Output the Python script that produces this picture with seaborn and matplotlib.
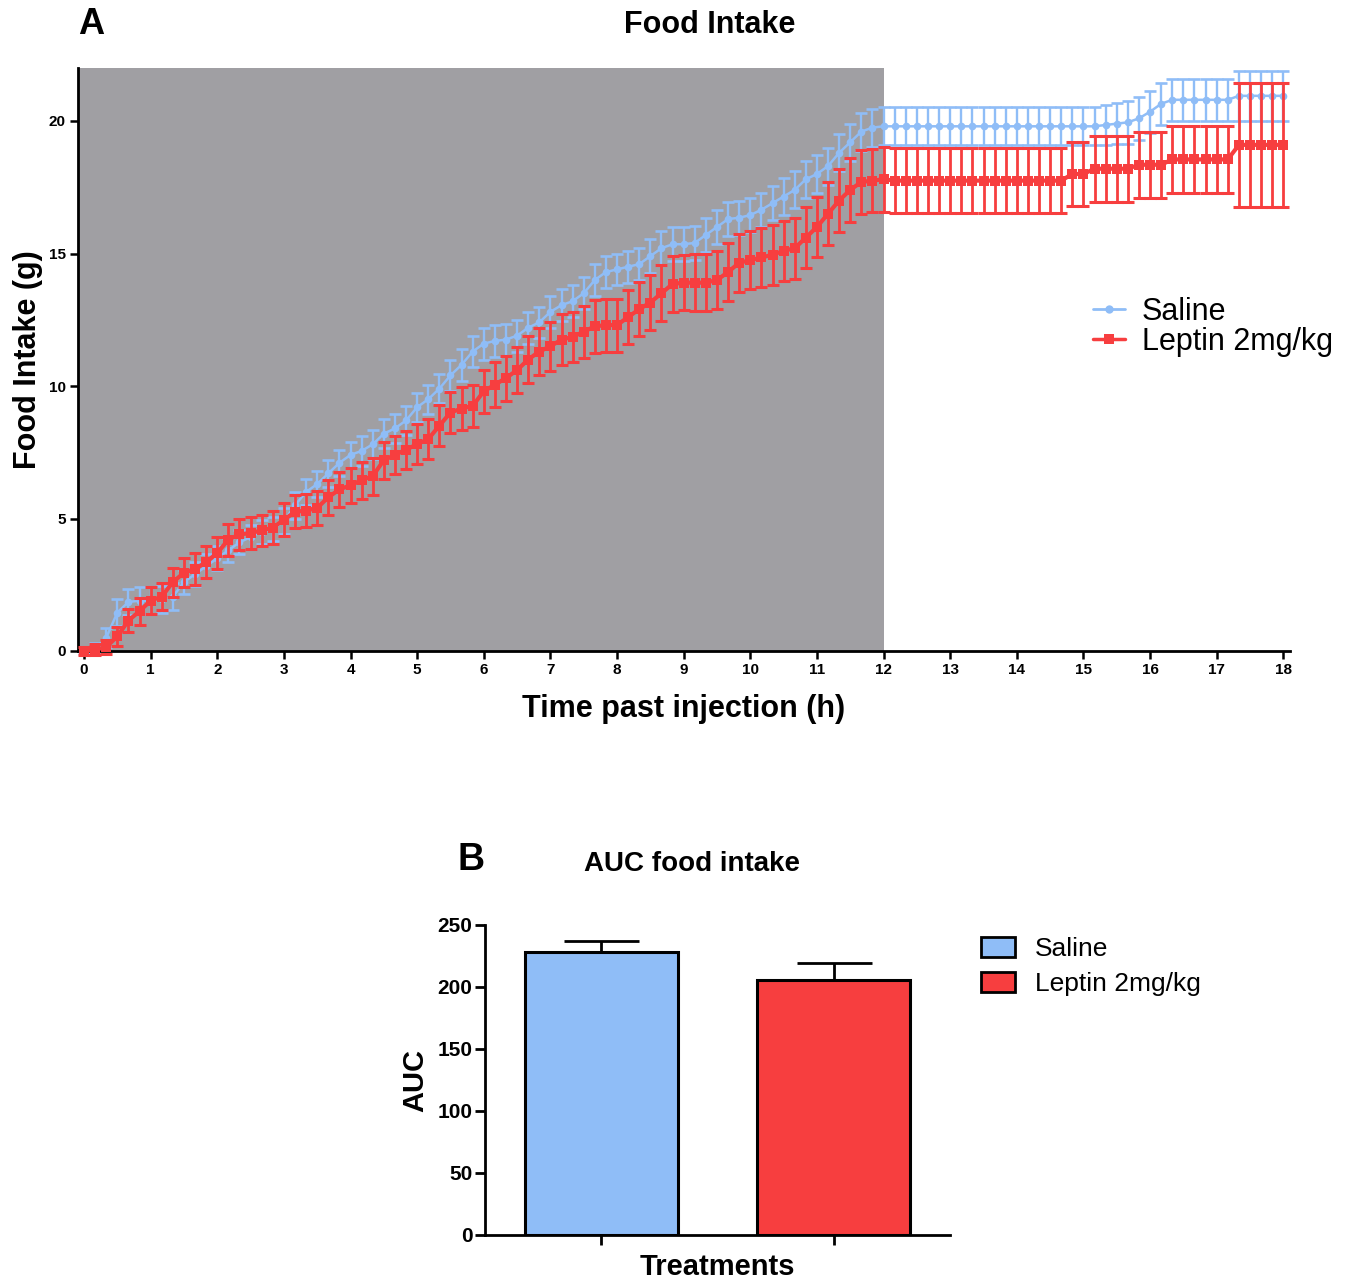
import numpy as np
import pandas as pd
import matplotlib
matplotlib.use("Agg")
import matplotlib.pyplot as plt
from matplotlib.lines import Line2D
from matplotlib.patches import Patch
import seaborn as sns

# ---------------- data ----------------
# time points (h), 10-minute sampling from 0 to 18 h
time_h = np.arange(109) / 6.0

saline_mean = [
    0.0, 0.1, 0.5, 1.45, 1.85, 1.9,
    1.9, 1.95, 2.05, 2.6, 2.9, 3.2,
    3.5, 3.8, 4.1, 4.3, 4.5, 4.6,
    4.9, 5.5, 6.0, 6.3, 6.7, 7.1,
    7.4, 7.55, 7.8, 8.2, 8.4, 8.7,
    9.2, 9.5, 9.9, 10.4, 10.8, 11.3,
    11.6, 11.7, 11.75, 11.9, 12.2, 12.4,
    12.8, 13.05, 13.2, 13.5, 14.0, 14.3,
    14.4, 14.5, 14.6, 14.9, 15.2, 15.35,
    15.35, 15.4, 15.7, 16.0, 16.3, 16.35,
    16.45, 16.65, 16.9, 17.15, 17.4, 17.8,
    18.0, 18.3, 18.8, 19.2, 19.6, 19.75,
    19.8, 19.8, 19.8, 19.8, 19.8, 19.8,
    19.8, 19.8, 19.8, 19.8, 19.8, 19.8,
    19.8, 19.8, 19.8, 19.8, 19.8, 19.8,
    19.8, 19.8, 19.85, 19.9, 19.95, 20.1,
    20.35, 20.65, 20.8, 20.8, 20.8, 20.8,
    20.8, 20.8, 20.95, 20.95, 20.95, 20.95,
    20.95,
]
saline_sem = [
    0.1, 0.2, 0.35, 0.5, 0.5, 0.5,
    0.5, 0.5, 0.5, 0.45, 0.45, 0.45,
    0.45, 0.45, 0.45, 0.45, 0.45, 0.45,
    0.5, 0.5, 0.5, 0.5, 0.5, 0.5,
    0.5, 0.55, 0.55, 0.55, 0.55, 0.55,
    0.55, 0.55, 0.55, 0.6, 0.6, 0.6,
    0.6, 0.6, 0.6, 0.6, 0.6, 0.6,
    0.6, 0.6, 0.6, 0.6, 0.6, 0.6,
    0.6, 0.6, 0.6, 0.65, 0.65, 0.65,
    0.65, 0.65, 0.65, 0.65, 0.65, 0.65,
    0.65, 0.65, 0.65, 0.7, 0.7, 0.7,
    0.7, 0.7, 0.7, 0.7, 0.72, 0.72,
    0.72, 0.72, 0.72, 0.72, 0.72, 0.72,
    0.72, 0.72, 0.72, 0.72, 0.72, 0.72,
    0.72, 0.72, 0.72, 0.72, 0.72, 0.72,
    0.72, 0.72, 0.75, 0.78, 0.8, 0.8,
    0.8, 0.8, 0.8, 0.8, 0.8, 0.8,
    0.8, 0.8, 0.95, 0.95, 0.95, 0.95,
    0.95,
]
leptin_mean = [
    0.0, 0.05, 0.15, 0.55, 1.15, 1.5,
    1.9, 2.05, 2.6, 2.95, 3.1, 3.35,
    3.7, 4.2, 4.4, 4.45, 4.55, 4.65,
    4.95, 5.25, 5.3, 5.4, 5.8, 6.1,
    6.25, 6.45, 6.6, 7.2, 7.4, 7.6,
    7.8, 8.0, 8.5, 9.0, 9.15, 9.25,
    9.8, 10.05, 10.3, 10.6, 11.0, 11.3,
    11.5, 11.75, 11.85, 12.05, 12.25, 12.3,
    12.3, 12.6, 12.9, 13.15, 13.5, 13.85,
    13.9, 13.9, 13.9, 14.0, 14.3, 14.65,
    14.75, 14.85, 14.95, 15.1, 15.2, 15.6,
    16.0, 16.5, 17.0, 17.4, 17.7, 17.75,
    17.8, 17.75, 17.75, 17.75, 17.75, 17.75,
    17.75, 17.75, 17.75, 17.75, 17.75, 17.75,
    17.75, 17.75, 17.75, 17.75, 17.75, 18.0,
    18.0, 18.2, 18.2, 18.2, 18.2, 18.35,
    18.35, 18.35, 18.55, 18.55, 18.55, 18.55,
    18.55, 18.55, 19.1, 19.1, 19.1, 19.1,
    19.1,
]
leptin_sem = [
    0.15, 0.2, 0.25, 0.35, 0.45, 0.5,
    0.5, 0.5, 0.55, 0.55, 0.6, 0.6,
    0.6, 0.6, 0.6, 0.6, 0.6, 0.62,
    0.62, 0.62, 0.62, 0.65, 0.65, 0.65,
    0.65, 0.7, 0.7, 0.7, 0.72, 0.72,
    0.75, 0.75, 0.78, 0.78, 0.8, 0.8,
    0.8, 0.85, 0.85, 0.88, 0.9, 0.9,
    0.92, 0.95, 0.95, 0.98, 1.0, 1.0,
    1.0, 1.02, 1.02, 1.05, 1.05, 1.05,
    1.05, 1.08, 1.08, 1.08, 1.1, 1.1,
    1.1, 1.1, 1.12, 1.12, 1.15, 1.15,
    1.15, 1.18, 1.18, 1.2, 1.2, 1.2,
    1.22, 1.22, 1.22, 1.22, 1.22, 1.22,
    1.22, 1.22, 1.22, 1.22, 1.22, 1.22,
    1.22, 1.22, 1.22, 1.22, 1.22, 1.22,
    1.22, 1.25, 1.25, 1.25, 1.25, 1.25,
    1.25, 1.25, 1.25, 1.25, 1.25, 1.25,
    1.25, 1.25, 2.35, 2.35, 2.35, 2.35,
    2.35,
]

x_ticks = list(range(0, 19))
y_ticks_a = [0, 5, 10, 15, 20]

treatments = ["Saline", "Leptin 2mg/kg"]
auc_mean = [228.0, 205.5]
auc_sem = [9.0, 13.8]
y_ticks_b = [0, 50, 100, 150, 200, 250]

dark_phase_end = 12

# ---------------- style ----------------
sns.set_theme(style="ticks")
plt.rcParams["font.family"] = ["Liberation Sans", "DejaVu Sans"]
plt.rcParams["text.color"] = "black"
plt.rcParams["axes.labelcolor"] = "black"
plt.rcParams["xtick.color"] = "black"
plt.rcParams["ytick.color"] = "black"
plt.rcParams["xtick.labelcolor"] = "black"
plt.rcParams["ytick.labelcolor"] = "black"

c_sal = "#8FBDF7"
c_lep = "#F73E3F"
c_dark = "#A09FA3"

fig = plt.figure(figsize=(13.61, 12.81), dpi=100)

# ---------------- Panel A ----------------
W, H = 1361.0, 1281.0
axA = fig.add_axes([78 / W, 1 - 651 / H, (1290 - 78) / W, (651 - 68) / H])
axA.set_xlim(-0.09, 18.1)
axA.set_ylim(0, 22)
axA.axvspan(-0.09, dark_phase_end, color=c_dark, zorder=0, lw=0)

df = pd.DataFrame({
    "time": np.concatenate([time_h, time_h]),
    "intake": saline_mean + leptin_mean,
    "group": ["Saline"] * len(time_h) + ["Leptin 2mg/kg"] * len(time_h),
})

axA.errorbar(time_h, saline_mean, yerr=saline_sem, fmt="none", ecolor=c_sal,
             elinewidth=1.7, capsize=4.2, capthick=1.9, zorder=2)
sns.lineplot(data=df[df.group == "Saline"], x="time", y="intake", ax=axA,
             color=c_sal, lw=1.8, marker="o", markersize=5.5, markeredgewidth=0,
             legend=False, zorder=3)
axA.errorbar(time_h, leptin_mean, yerr=leptin_sem, fmt="none", ecolor=c_lep,
             elinewidth=2.0, capsize=4.5, capthick=2.2, zorder=4)
sns.lineplot(data=df[df.group == "Leptin 2mg/kg"], x="time", y="intake", ax=axA,
             color=c_lep, lw=3.0, marker="s", markersize=7, markeredgewidth=0,
             legend=False, zorder=5)
for ln in axA.lines:
    ln.set_clip_on(False)

axA.set_xticks(x_ticks)
axA.set_yticks(y_ticks_a)
axA.tick_params(axis="both", direction="out", length=6, width=1.8, labelsize=11,
                pad=3, color="black", labelcolor="black")
for lab in axA.get_xticklabels() + axA.get_yticklabels():
    lab.set_fontweight("bold")
for s in ["top", "right"]:
    axA.spines[s].set_visible(False)
for s in ["left", "bottom"]:
    axA.spines[s].set_linewidth(2)
    axA.spines[s].set_color("black")
axA.set_xlabel("Time past injection (h)", fontsize=22, fontweight="bold",
               labelpad=12, color="black")
axA.set_ylabel("Food Intake (g)", fontsize=22, fontweight="bold", labelpad=4,
               color="black")
fig.text(710 / W, 1 - 25 / H, "Food Intake", ha="center", va="center",
         fontsize=22, fontweight="bold", color="black")
fig.text(78 / W, 1 - 24 / H, "A", ha="left", va="center",
         fontsize=26, fontweight="bold", color="black")

legA = [
    Line2D([0], [0], color=c_sal, lw=2, marker="o", markersize=6, markeredgewidth=0),
    Line2D([0], [0], color=c_lep, lw=2.5, marker="s", markersize=7, markeredgewidth=0),
]
fig.legend(legA, treatments, loc="upper left",
           bbox_to_anchor=(1093 / W, 1 - 297 / H), frameon=False,
           fontsize=22, handlelength=1.05, handletextpad=0.55,
           labelspacing=0.0, borderpad=0, borderaxespad=0, labelcolor="black")

# ---------------- Panel B ----------------
axB = fig.add_axes([485 / W, 1 - 1235 / H, (950 - 485) / W, (1235 - 925) / H])
dfb = pd.DataFrame({"treatment": treatments, "auc": auc_mean})
sns.barplot(data=dfb, x="treatment", y="auc", hue="treatment",
            palette=[c_sal, c_lep], saturation=1, ax=axB, width=0.66,
            edgecolor="black", linewidth=2.2, legend=False, errorbar=None, zorder=2)
axB.errorbar([0, 1], auc_mean, yerr=[[0, 0], auc_sem], fmt="none", ecolor="black",
             elinewidth=2, capsize=27, capthick=2, zorder=1)
axB.set_xlim(-0.5, 1.5)
axB.set_ylim(0, 250)
axB.set_yticks(y_ticks_b)
axB.set_xticks([0, 1])
axB.set_xticklabels(["", ""])
axB.tick_params(axis="both", direction="out", length=7, width=2, labelsize=15,
                pad=2, color="black", labelcolor="black")
for lab in axB.get_yticklabels():
    lab.set_fontweight("bold")
for s in ["top", "right"]:
    axB.spines[s].set_visible(False)
for s in ["left", "bottom"]:
    axB.spines[s].set_linewidth(2)
    axB.spines[s].set_color("black")
axB.set_xlabel("Treatments", fontsize=21, fontweight="bold", labelpad=4,
               color="black")
axB.set_ylabel("AUC", fontsize=21, fontweight="bold", labelpad=6, color="black")
fig.text(692 / W, 1 - 864 / H, "AUC food intake", ha="center", va="center",
         fontsize=20, fontweight="bold", color="black")
fig.text(458 / W, 1 - 860 / H, "B", ha="left", va="center",
         fontsize=27, fontweight="bold", color="black")

legB = [Patch(facecolor=c_sal, edgecolor="black", linewidth=2),
        Patch(facecolor=c_lep, edgecolor="black", linewidth=2)]
fig.legend(legB, treatments, loc="upper left",
           bbox_to_anchor=(981 / W, 1 - 937 / H), frameon=False,
           fontsize=19, handlelength=1.3, handleheight=0.8, handletextpad=0.75,
           labelspacing=0.4, borderpad=0, borderaxespad=0, labelcolor="black")

fig.savefig("out.png", dpi=100)
